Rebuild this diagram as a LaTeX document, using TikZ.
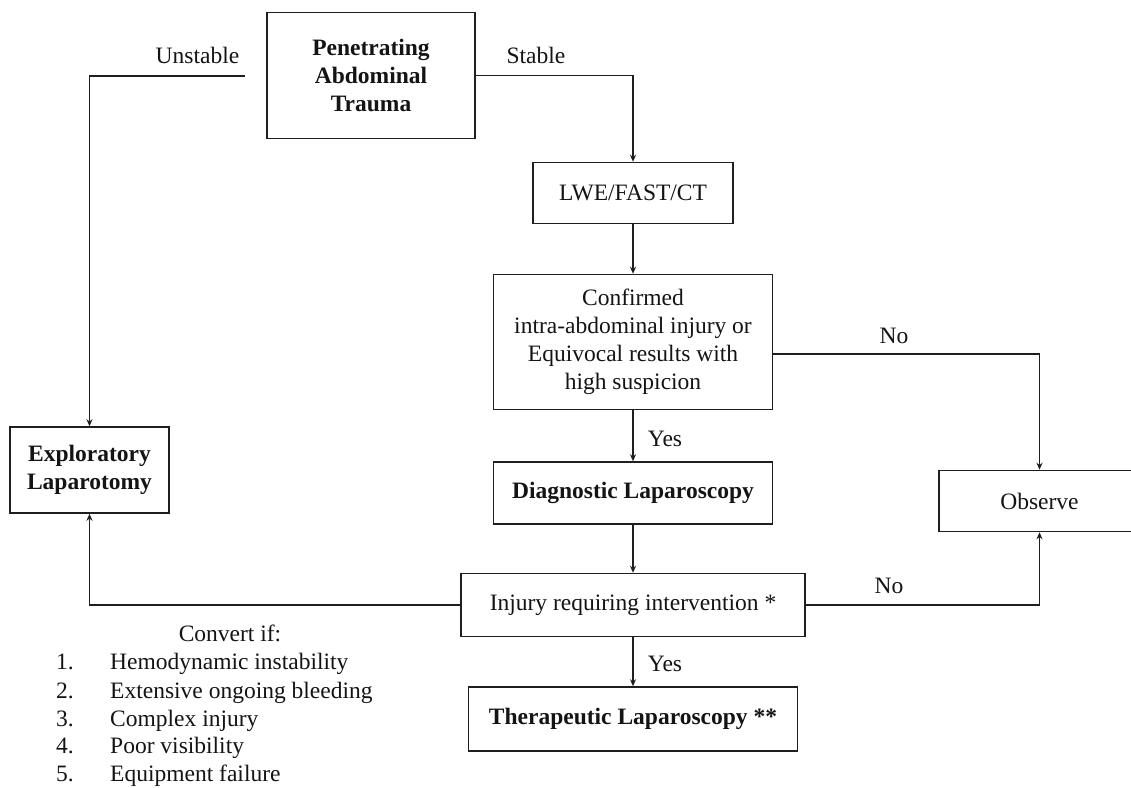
\documentclass[tikz,border=0pt]{standalone}
\usepackage{fontspec}
\setmainfont{Liberation Serif}
\usetikzlibrary{arrows.meta}
\begin{document}
\begin{tikzpicture}[x=1pt,y=-1pt,
  every node/.style={font=\fontsize{23.5}{28}\selectfont, text=black!92},
  box/.style={draw=black!88, line width=1.5pt, inner sep=0pt, align=center},
  bbox/.style={box, font=\fontsize{23.5}{28}\selectfont\bfseries},
  conn/.style={draw=black!88, line width=1.5pt},
  arr/.style={conn, -{Stealth[length=7pt,width=6pt]}},
  lbl/.style={inner sep=0pt, text height=16pt, text depth=5pt}
]
\useasboundingbox (0,0) rectangle (1131,787);
\fill[white] (0,0) rectangle (1131,787);

% boxes
\node[bbox, minimum width=208pt, minimum height=126pt] (pat) at (371,75.5) {Penetrating\\Abdominal\\Trauma};
\node[box, minimum width=200pt, minimum height=61pt] (lwe) at (633,193) {LWE/FAST/CT};
\node[box, minimum width=279pt, minimum height=135pt] (conf) at (633,342) {Confirmed\\intra-abdominal injury or\\Equivocal results with\\high suspicion};
\node[bbox, minimum width=279pt, minimum height=62pt] (diag) at (633,493) {Diagnostic Laparoscopy};
\node[box, minimum width=344pt, minimum height=63pt] (inj) at (633,605) {Injury requiring intervention *};
\node[bbox, minimum width=329pt, minimum height=64pt] (ther) at (633,719) {Therapeutic Laparoscopy **};
\node[bbox, minimum width=159pt, minimum height=86pt] (expl) at (89.5,470) {Exploratory\\Laparotomy};
\node[box, minimum width=201pt, minimum height=61pt] (obs) at (1039.5,501) {Observe};

% connectors
\coordinate (u) at (245,76);
\coordinate (c) at (773,354);
\draw[arr] (u) -| (expl.north);
\draw[arr] (pat.east) -| (lwe.north);
\draw[arr] (lwe.south) -- (conf.north);
\draw[arr] (c) -| (obs.north);
\draw[arr] (conf.south) -- (diag.north);
\draw[arr] (diag.south) -- (inj.north);
\draw[arr] (inj.west) -| (expl.south);
\draw[arr] (inj.east) -| (obs.south);
\draw[arr] (inj.south) -- (ther.north);

% labels
\node[lbl] (l1) at (197.5,58) {Unstable};
\node[lbl] (l2) at (536,58) {Stable};
\node[lbl] (l3) at (894,338) {No};
\node[lbl] (l4) at (889,588) {No};
\node[lbl] (l5) at (665,441) {Yes};
\node[lbl] (l6) at (665,666) {Yes};

% conversion list
\node[lbl] (cv) at (230,636) {Convert if:};
\foreach \n/\t/\y in {1/Hemodynamic instability/664, 2/Extensive ongoing bleeding/693, 3/Complex injury/721, 4/Poor visibility/748, 5/Equipment failure/776}{
  \node[lbl, anchor=west] (n\n) at (56,\y) {\n.};
  \node[lbl, anchor=west] (t\n) at (110,\y) {\t};
}
\end{tikzpicture}
\end{document}
